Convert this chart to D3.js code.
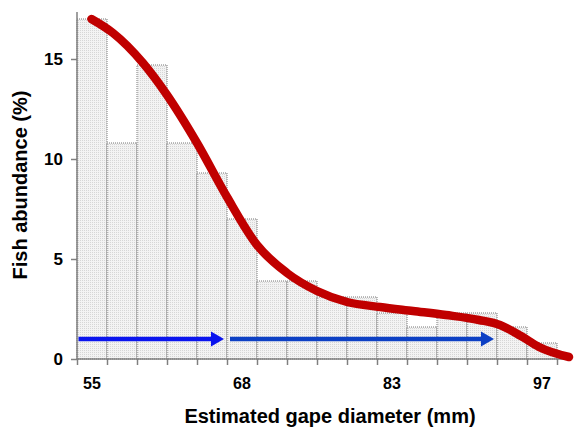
<!DOCTYPE html>
<html>
<head>
<meta charset="utf-8">
<script src="https://cdn.jsdelivr.net/npm/d3@7"></script>
<style>
  body { margin: 0; background: #fff; }
  text { font-family: "Liberation Sans", Arial, sans-serif; font-weight: bold; }
</style>
</head>
<body>
<div id="chart"></div>
<script>
// histogram bins (16 size classes), abundance in %
const bins = [1, 2, 3, 4, 5, 6, 7, 8, 9, 10, 11, 12, 13, 14, 15, 16];
const abundance = [17.0, 10.8, 14.7, 10.8, 9.3, 7.0, 3.9, 3.9, 3.1, 3.1, 2.3, 1.6, 2.3, 2.3, 1.6, 0.8];
const binLabels = {1: "55", 6: "68", 11: "83", 16: "97"};
const yTicks = [0, 5, 10, 15];

// smoothed red curve (x in bin units from left edge, y in %)
const curveX = [0.48, 1.2, 2.2, 3.0, 4.0, 5.0, 6.0, 7.0, 8.0, 9.0, 10.1, 11.2, 12.3, 13.4, 14.1, 14.8, 15.4, 16.4];
const curveY = [17.0, 16.3, 14.8, 13.2, 10.8, 8.1, 5.7, 4.3, 3.4, 2.85, 2.6, 2.4, 2.2, 1.95, 1.7, 1.15, 0.6, 0.1];

// blue arrows: [start, end] in bin units, at level 1%
const arrows = [
  {from: 0.05, to: 4.9, level: 1.0, color: "#0a14ee"},
  {from: 5.1, to: 13.9, level: 1.0, color: "#0d40c4"}
];

const width = 585, height = 430;
const left = 77, bottom = 359;

const svg = d3.select("#chart").append("svg")
    .attr("width", width)
    .attr("height", height);

const x = d3.scaleLinear().domain([0, 16.5]).range([left, left + 16.5 * 30]);
const y = d3.scaleLinear().domain([0, 17.35]).range([bottom, 12]);

// dotted fill pattern for bars
const defs = svg.append("defs");
const pat = defs.append("pattern")
    .attr("id", "dots")
    .attr("width", 2).attr("height", 2)
    .attr("patternUnits", "userSpaceOnUse");
pat.append("rect").attr("width", 2).attr("height", 2).attr("fill", "#f3f3f3");
pat.append("rect").attr("width", 1).attr("height", 1).attr("fill", "#d6d6d6");

svg.selectAll("rect.bar")
    .data(bins)
    .enter()
    .append("rect")
    .attr("class", "bar")
    .attr("x", (d, i) => x(i))
    .attr("y", (d, i) => y(abundance[i]))
    .attr("width", 30)
    .attr("height", (d, i) => y(0) - y(abundance[i]))
    .attr("fill", "url(#dots)")
    .attr("stroke", "#777")
    .attr("stroke-width", 1)
    .attr("stroke-dasharray", "1,1");

// y axis
const yAxis = svg.append("g")
    .attr("transform", `translate(${left},0)`)
    .call(d3.axisLeft(y).tickValues(yTicks).tickSize(6).tickPadding(8));
yAxis.select(".domain").attr("d", `M0,${y(0)}V${y(17.35)}`);

// x axis
const xAxis = svg.append("g")
    .attr("transform", `translate(0,${bottom})`)
    .call(d3.axisBottom(x).tickValues(d3.range(0, 17)).tickSize(6).tickFormat(""));
xAxis.select(".domain").attr("d", `M${left},0H${x(16.5)}`);

svg.selectAll(".domain, .tick line").attr("stroke", "#808080").attr("stroke-width", 1.5);
yAxis.selectAll(".tick text").attr("font-size", 17).attr("fill", "#000");

svg.append("g").selectAll("text")
    .data(bins.filter(b => binLabels[b]))
    .enter()
    .append("text")
    .attr("x", d => x(d - 0.5))
    .attr("y", 389)
    .attr("text-anchor", "middle")
    .attr("font-size", 16)
    .text(d => binLabels[d]);

// blue arrows
arrows.forEach(a => {
  const yy = y(a.level);
  svg.append("line")
      .attr("x1", x(a.from)).attr("x2", x(a.to) - 10)
      .attr("y1", yy).attr("y2", yy)
      .attr("stroke", a.color)
      .attr("stroke-width", 4.5);
  svg.append("path")
      .attr("d", `M${x(a.to)},${yy}L${x(a.to) - 13},${yy - 7.5}L${x(a.to) - 13},${yy + 7.5}Z`)
      .attr("fill", a.color);
});

// red smoothed curve
const line = d3.line()
    .x(d => x(d[0]))
    .y(d => y(d[1]))
    .curve(d3.curveMonotoneX);

svg.append("path")
    .datum(curveX.map((v, i) => [v, curveY[i]]))
    .attr("d", line)
    .attr("fill", "none")
    .attr("stroke", "#c00000")
    .attr("stroke-width", 8.5)
    .attr("stroke-linecap", "round")
    .attr("stroke-linejoin", "round");

// axis titles
svg.append("text")
    .attr("x", 330)
    .attr("y", 423)
    .attr("text-anchor", "middle")
    .attr("font-size", 20)
    .text("Estimated gape diameter (mm)");

svg.append("text")
    .attr("transform", "translate(27,185) rotate(-90)")
    .attr("text-anchor", "middle")
    .attr("font-size", 20)
    .text("Fish abundance (%)");
</script>
</body>
</html>
